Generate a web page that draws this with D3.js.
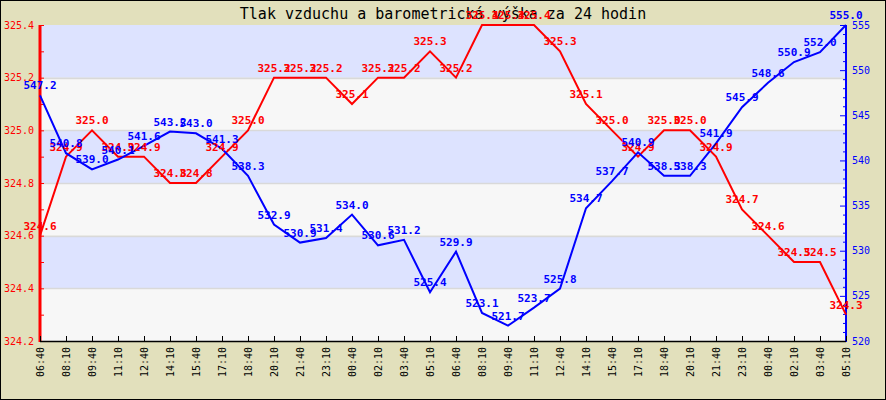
<!DOCTYPE html>
<html><head><meta charset="utf-8">
<script src="https://cdn.jsdelivr.net/npm/d3@7"></script>
<style>body{margin:0;background:#fff}svg{display:block}</style>
</head><body>
<svg id="c" width="886" height="400"></svg>
<script>
const title = "Tlak vzduchu a barometrická výška za 24 hodin";
const timeLabels = ["06:40","08:10","09:40","11:10","12:40","14:10","15:40","17:10","18:40","20:10","21:40","23:10","00:40","02:10","03:40","05:10",
                    "06:40","08:10","09:40","11:10","12:40","14:10","15:40","17:10","18:40","20:10","21:40","23:10","00:40","02:10","03:40","05:10"];
const pressure = [324.6,324.9,325.0,324.9,324.9,324.8,324.8,324.9,325.0,325.2,325.2,325.2,325.1,325.2,325.2,325.3,
                  325.2,325.4,325.4,325.4,325.3,325.1,325.0,324.9,325.0,325.0,324.9,324.7,324.6,324.5,324.5,324.3];
const altitude = [547.2,540.8,539.0,540.1,541.6,543.2,543.0,541.3,538.3,532.9,530.9,531.4,534.0,530.6,531.2,525.4,
                  529.9,523.1,521.7,523.7,525.8,534.7,537.7,540.9,538.3,538.3,541.9,545.9,548.6,550.9,552.0,555.0];
const pressureTicks = [324.2,324.4,324.6,324.8,325.0,325.2,325.4];
const altitudeTicks = [520,525,530,535,540,545,550,555];

const svg = d3.select("#c");
const L = 40, R = 846, T = 25, B = 341;
const mono = "'DejaVu Sans Mono', monospace";

svg.append("rect").attr("x",0.5).attr("y",0.5).attr("width",885).attr("height",399)
   .attr("fill","#e2e0bc").attr("stroke","#000").attr("stroke-width",1);

const x = d3.scalePoint().domain(d3.range(timeLabels.length)).range([L,R]);
const yP = d3.scaleLinear().domain([324.2,325.4]).range([B,T]);
const yA = d3.scaleLinear().domain([520,555]).range([B,T]);

// bands
for (let i=0;i<pressureTicks.length-1;i++){
  const a = pressureTicks[i], b = pressureTicks[i+1];
  svg.append("rect").attr("x",L).attr("width",R-L)
     .attr("y",yP(b)).attr("height",yP(a)-yP(b))
     .attr("fill", i%2===0 ? "#f7f7f7" : "#dde3ff");
}
pressureTicks.forEach(v=>{
  if (v>324.2 && v<325.4)
    svg.append("line").attr("x1",L).attr("x2",R).attr("y1",Math.round(yP(v))+0.5).attr("y2",Math.round(yP(v))+0.5)
       .attr("stroke","#d9d9d9").attr("stroke-width",1.5);
});

// title
svg.append("text").attr("x",443).attr("y",19).attr("text-anchor","middle")
   .attr("font-family",mono).attr("font-size",15).attr("fill","#000").text(title);

// left axis (red)
const gl = svg.append("g").attr("transform",`translate(${L},0)`);
gl.call(d3.axisRight(yP).tickValues(d3.range(0,13).map(i=>+(324.2+i*0.1).toFixed(1))).tickSize(4).tickFormat(""));
gl.select(".domain").remove();
gl.selectAll("line").attr("stroke","red");
svg.append("line").attr("x1",L).attr("x2",L).attr("y1",T).attr("y2",B+1).attr("stroke","red").attr("stroke-width",3);
pressureTicks.forEach(v=>{
  svg.append("text").attr("x",34).attr("y",yP(v)).attr("dy","0.35em").attr("text-anchor","end")
     .attr("font-family",mono).attr("font-size",10).attr("fill","red").text(v.toFixed(1));
});

// right axis (blue)
const gr = svg.append("g").attr("transform",`translate(${R},0)`);
gr.call(d3.axisLeft(yA).tickValues(d3.range(520,556,1)).tickSize(3).tickFormat(""));
gr.select(".domain").remove();
gr.selectAll("line").attr("stroke","blue");
gr.selectAll(".tick line").attr("x2", d => d%5===0 ? -6 : -3);
svg.append("line").attr("x1",R).attr("x2",R).attr("y1",T).attr("y2",B+1).attr("stroke","blue").attr("stroke-width",2);
altitudeTicks.forEach(v=>{
  svg.append("text").attr("x",852).attr("y",yA(v)).attr("dy","0.35em").attr("text-anchor","start")
     .attr("font-family",mono).attr("font-size",10).attr("fill","blue").text(v);
});

// x axis
const gx = svg.append("g").attr("transform",`translate(0,${B})`);
gx.call(d3.axisTop(x).tickSize(5).tickFormat(""));
gx.select(".domain").remove();
gx.selectAll("line").attr("stroke","#000");
svg.append("line").attr("x1",L).attr("x2",R).attr("y1",B+0.5).attr("y2",B+0.5).attr("stroke","#000").attr("stroke-width",1.5);
timeLabels.forEach((t,i)=>{
  svg.append("text").attr("transform",`translate(${x(i)},347) rotate(-90)`)
     .attr("text-anchor","end").attr("dy","0.35em")
     .attr("font-family",mono).attr("font-size",10).attr("fill","#000").text(t);
});

// lines
svg.append("path").datum(pressure)
   .attr("d", d3.line().x((d,i)=>x(i)).y(d=>yP(d)))
   .attr("fill","none").attr("stroke","red").attr("stroke-width",2);
svg.append("path").datum(altitude)
   .attr("d", d3.line().x((d,i)=>x(i)).y(d=>yA(d)))
   .attr("fill","none").attr("stroke","blue").attr("stroke-width",2);

// data labels
pressure.forEach((v,i)=>{
  svg.append("text").attr("x",x(i)).attr("y",yP(v)-6).attr("text-anchor","middle")
     .attr("font-family",mono).attr("font-weight","bold").attr("font-size",11).attr("fill","red").text(v.toFixed(1));
});
altitude.forEach((v,i)=>{
  svg.append("text").attr("x",x(i)).attr("y",yA(v)-6).attr("text-anchor","middle")
     .attr("font-family",mono).attr("font-weight","bold").attr("font-size",11).attr("fill","blue").text(v.toFixed(1));
});
</script>
</body></html>
